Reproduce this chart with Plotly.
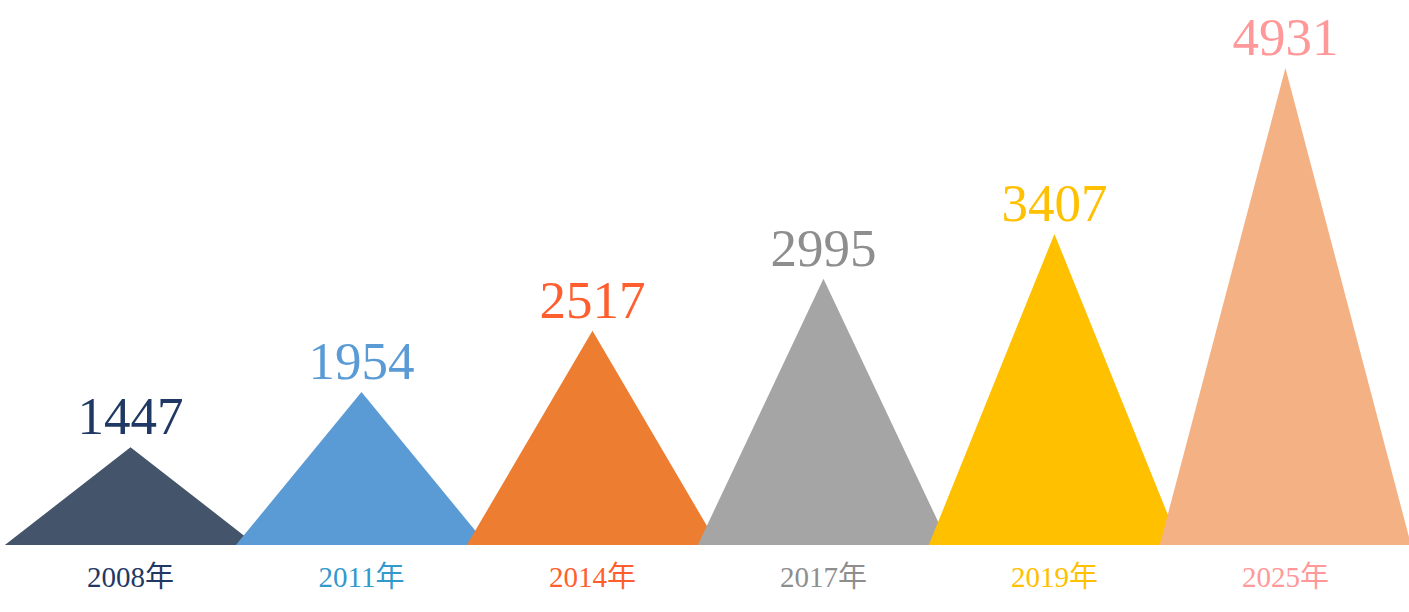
import plotly.graph_objects as go

# ---- data ----
categories = ["2008年", "2011年", "2014年", "2017年", "2019年", "2025年"]
values = [1447, 1954, 2517, 2995, 3407, 4931]

# ---- styles ----
fill_colors = ["#44546A", "#5B9BD5", "#ED7D31", "#A5A5A5", "#FFC000", "#F4B183"]
label_colors = ["#1F3864", "#5B9BD5", "#FF5F2E", "#8E8E8E", "#FFC000", "#FF9999"]
tick_colors = ["#1F3864", "#3399CC", "#FF5F2E", "#8E8E8E", "#FFC000", "#FF9999"]
HALF_WIDTH = 0.544
BASE = 550
Y_TOP = 5555
X_RANGE = [-0.565, 5.535]

fig = go.Figure()

for i, (v, c) in enumerate(zip(values, fill_colors)):
    fig.add_trace(go.Scatter(
        x=[i - HALF_WIDTH, i, i + HALF_WIDTH, i - HALF_WIDTH],
        y=[BASE, v, BASE, BASE],
        mode="lines",
        fill="toself",
        fillcolor=c,
        line=dict(width=0, color=c),
        hoverinfo="skip",
        showlegend=False,
    ))

fig.add_trace(go.Scatter(
    x=list(range(len(values))),
    y=values,
    mode="text",
    text=[str(v) for v in values],
    textposition="top center",
    textfont=dict(family="Liberation Serif", size=53, color=label_colors),
    cliponaxis=False,
    showlegend=False,
    hoverinfo="skip",
))

ticktext = [
    f"<span style='color:{c}'>{t}</span>" for t, c in zip(categories, tick_colors)
]

fig.update_layout(
    width=1409,
    height=612,
    margin=dict(l=0, r=0, t=0, b=67),
    paper_bgcolor="white",
    plot_bgcolor="white",
    hovermode=False,
    xaxis=dict(
        range=X_RANGE,
        tickmode="array",
        tickvals=list(range(len(values))),
        ticktext=ticktext,
        showgrid=False,
        zeroline=False,
        showline=False,
        ticks="",
        ticklabelstandoff=12,
        tickfont=dict(family="Liberation Serif, Noto Sans CJK SC", size=29),
    ),
    yaxis=dict(
        range=[BASE, Y_TOP],
        visible=False,
        showgrid=False,
        zeroline=False,
    ),
)

fig.write_html(
    "out.html",
    config={"displayModeBar": False},
    post_script="document.body.style.margin='0';document.body.style.overflow='hidden';",
)
